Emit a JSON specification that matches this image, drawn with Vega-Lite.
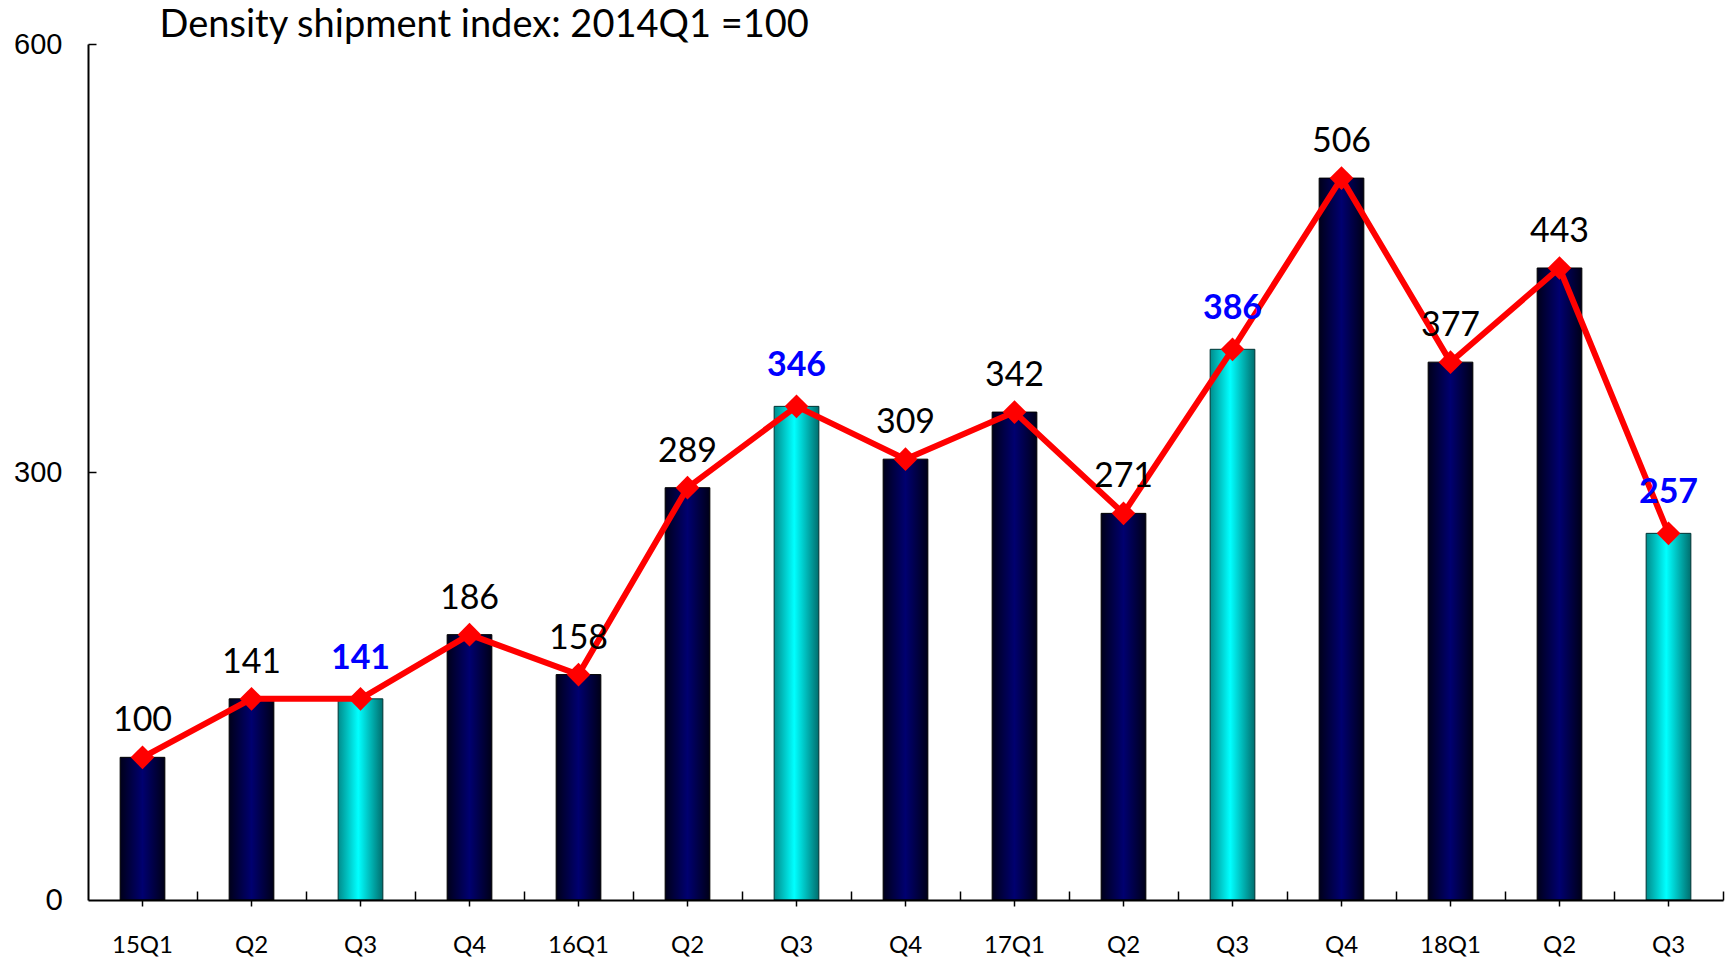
{
  "$schema": "https://vega.github.io/schema/vega-lite/v6.json",
  "width": 1635,
  "height": 856,
  "autosize": "none",
  "padding": {"left": 88, "top": 44, "right": 8, "bottom": 58},
  "background": "white",
  "config": {"view": {"stroke": null}},
  "title": {
    "text": "Density shipment index: 2014Q1 =100",
    "anchor": "start",
    "font": "Lato",
    "fontSize": 38,
    "fontWeight": "normal",
    "color": "black",
    "dx": 146,
    "dy": 52,
    "offset": 7,
    "baseline": "alphabetic"
  },
  "data": {
    "values": [
      {"q": "15Q1", "value": 100, "type": "dark"},
      {"q": "15Q2", "value": 141, "type": "dark"},
      {"q": "15Q3", "value": 141, "type": "cyan"},
      {"q": "15Q4", "value": 186, "type": "dark"},
      {"q": "16Q1", "value": 158, "type": "dark"},
      {"q": "16Q2", "value": 289, "type": "dark"},
      {"q": "16Q3", "value": 346, "type": "cyan"},
      {"q": "16Q4", "value": 309, "type": "dark"},
      {"q": "17Q1", "value": 342, "type": "dark"},
      {"q": "17Q2", "value": 271, "type": "dark"},
      {"q": "17Q3", "value": 386, "type": "cyan"},
      {"q": "17Q4", "value": 506, "type": "dark"},
      {"q": "18Q1", "value": 377, "type": "dark"},
      {"q": "18Q2", "value": 443, "type": "dark"},
      {"q": "18Q3", "value": 257, "type": "cyan"}
    ]
  },
  "resolve": {"axis": {"x": "independent", "y": "independent"}},
  "layer": [
    {
      "transform": [{"filter": "datum.type == 'dark'"}],
      "mark": {
        "type": "bar",
        "stroke": "black",
        "strokeWidth": 1,
        "color": {
          "gradient": "linear", "x1": 0, "x2": 1, "y1": 0, "y2": 0,
          "stops": [
            {"offset": 0, "color": "#00001a"},
            {"offset": 0.5, "color": "#000070"},
            {"offset": 1, "color": "#000018"}
          ]
        }
      },
      "encoding": {
        "x": {
          "field": "q", "type": "nominal", "sort": null,
          "scale": {
            "domain": ["15Q1","15Q2","15Q3","15Q4","16Q1","16Q2","16Q3","16Q4","17Q1","17Q2","17Q3","17Q4","18Q1","18Q2","18Q3"],
            "paddingInner": 0.59, "paddingOuter": 0.295
          },
          "axis": {
            "orient": "bottom",
            "title": null,
            "labels": false,
            "domain": false,
            "ticks": true,
            "tickOffset": 54.5,
            "tickSize": 9,
            "offset": -9,
            "tickColor": "black",
            "tickWidth": 1.5,
            "zindex": 2
          }
        },
        "y": {
          "field": "value", "type": "quantitative",
          "scale": {"domain": [0, 600]},
          "axis": {
            "orient": "left",
            "title": null,
            "values": [300, 600],
            "grid": false,
            "domain": false,
            "labels": false,
            "ticks": true,
            "tickColor": "black",
            "tickSize": 8,
            "offset": -8,
            "tickWidth": 1.5,
            "zindex": 2
          }
        }
      }
    },
    {
      "transform": [{"filter": "datum.type == 'cyan'"}],
      "mark": {
        "type": "bar",
        "stroke": "#003333",
        "strokeWidth": 1,
        "color": {
          "gradient": "linear", "x1": 0, "x2": 1, "y1": 0, "y2": 0,
          "stops": [
            {"offset": 0, "color": "#008c8c"},
            {"offset": 0.45, "color": "#00ffff"},
            {"offset": 1, "color": "#006e6e"}
          ]
        }
      },
      "encoding": {
        "x": {
          "field": "q", "type": "nominal", "sort": null,
          "axis": {
            "orient": "bottom",
            "title": null,
            "domainColor": "black",
            "domainWidth": 2,
            "tickColor": "black",
            "tickSize": 6,
            "tickWidth": 1.5,
            "labelFont": "Lato",
            "labelFontSize": 24,
            "labelColor": "black",
            "labelAngle": 0,
            "labelBaseline": "middle",
            "labelPadding": 39,
            "labelExpr": "slice(datum.label, 2) == 'Q1' ? datum.label : slice(datum.label, 2)",
            "zindex": 2
          }
        },
        "y": {
          "field": "value", "type": "quantitative",
          "axis": {
            "orient": "left",
            "title": null,
            "values": [0, 300, 600],
            "grid": false,
            "ticks": false,
            "domainColor": "black",
            "domainWidth": 2,
            "labelFont": {"condition": {"test": "datum.value == 0", "value": "Lato"}, "value": "Liberation Sans"},
            "labelFontSize": 29,
            "labelColor": "black",
            "labelPadding": 26,
            "zindex": 2
          }
        }
      }
    },
    {
      "mark": {"type": "line", "color": "#ff0000", "strokeWidth": 6},
      "encoding": {
        "x": {"field": "q", "type": "nominal", "sort": null, "axis": null},
        "y": {"field": "value", "type": "quantitative", "axis": null}
      }
    },
    {
      "mark": {"type": "point", "shape": "diamond", "filled": true, "color": "#ff0000", "size": 560, "opacity": 1},
      "encoding": {
        "x": {"field": "q", "type": "nominal", "sort": null, "axis": null},
        "y": {"field": "value", "type": "quantitative", "axis": null}
      }
    },
    {
      "transform": [{"filter": "datum.type == 'dark'"}],
      "mark": {"type": "text", "font": "Lato", "fontSize": 34, "color": "black", "baseline": "middle", "dy": -36},
      "encoding": {
        "x": {"field": "q", "type": "nominal", "sort": null, "axis": null},
        "y": {"field": "value", "type": "quantitative", "axis": null},
        "text": {"field": "value", "type": "quantitative"}
      }
    },
    {
      "transform": [{"filter": "datum.type == 'cyan'"}],
      "mark": {"type": "text", "font": "Lato", "fontSize": 34, "fontWeight": "bold", "color": "#0000ff", "baseline": "middle", "dy": -40},
      "encoding": {
        "x": {"field": "q", "type": "nominal", "sort": null, "axis": null},
        "y": {"field": "value", "type": "quantitative", "axis": null},
        "text": {"field": "value", "type": "quantitative"}
      }
    }
  ]
}
